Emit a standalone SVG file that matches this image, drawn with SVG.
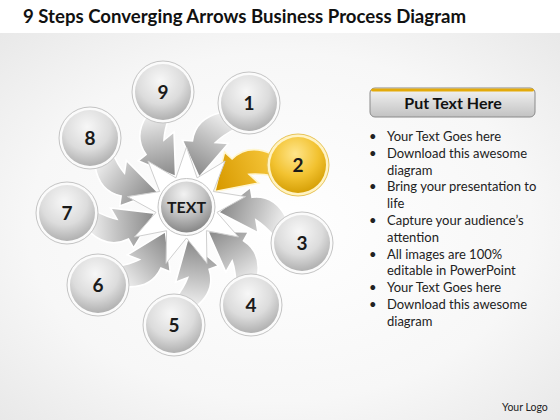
<svg xmlns="http://www.w3.org/2000/svg" xmlns:xlink="http://www.w3.org/1999/xlink" width="560" height="420" viewBox="0 0 560 420">
<style>
.num{font-family:Lato,"Open Sans","Liberation Sans",sans-serif;font-weight:bold;font-size:19px;fill:#1a1a1a;text-anchor:middle}
.ring{fill:#fbfbfb;stroke:#c4c4c4;stroke-width:1}
.ball{fill:url(#nodeGrad)}
.arrow{fill:url(#arrowGrad);stroke:#ffffff;stroke-width:1.6;stroke-linejoin:miter}
.bul{font-family:Lato,"Open Sans","Liberation Sans",sans-serif;font-size:13px;fill:#222}
</style>
<defs>
<radialGradient id="bgGrad" cx="50%" cy="50%" r="75%">
<stop offset="0" stop-color="#ffffff"/>
<stop offset="0.6" stop-color="#f7f7f7"/>
<stop offset="1" stop-color="#e6e6e6"/>
</radialGradient>
<radialGradient id="nodeGrad" cx="45%" cy="30%" r="75%">
<stop offset="0" stop-color="#f7f7f7"/>
<stop offset="0.55" stop-color="#dcdcdc"/>
<stop offset="1" stop-color="#a9a9a9"/>
</radialGradient>
<radialGradient id="goldGrad" cx="45%" cy="30%" r="75%">
<stop offset="0" stop-color="#ffe58a"/>
<stop offset="0.55" stop-color="#f2c230"/>
<stop offset="1" stop-color="#d19a00"/>
</radialGradient>
<radialGradient id="centerGrad" cx="45%" cy="25%" r="80%">
<stop offset="0" stop-color="#f2f2f2"/>
<stop offset="0.5" stop-color="#c4c4c4"/>
<stop offset="1" stop-color="#7e7e7e"/>
</radialGradient>
<linearGradient id="arrowGrad" gradientUnits="userSpaceOnUse" x1="98" y1="-10" x2="36" y2="-10">
<stop offset="0" stop-color="#efefef"/>
<stop offset="0.45" stop-color="#c2c2c2"/>
<stop offset="1" stop-color="#8e8e8e"/>
</linearGradient>
<linearGradient id="goldArrowGrad" gradientUnits="userSpaceOnUse" x1="98" y1="-10" x2="36" y2="-10">
<stop offset="0" stop-color="#f6c63a"/>
<stop offset="1" stop-color="#d89a00"/>
</linearGradient>
<linearGradient id="headGrad" x1="0" y1="0" x2="0" y2="1">
<stop offset="0" stop-color="#f4f4f4"/>
<stop offset="1" stop-color="#c2c2c2"/>
</linearGradient>
<path id="arrowShape" d="M32,-4.5 L55,-38 L59.6,-29 Q80,-38 98,-20 L93,2 Q80,-6 70.1,-8.5 L76,3 Z"/>
</defs>
<rect x="0" y="0" width="560" height="420" fill="#ffffff"/>
<rect x="0" y="33" width="560" height="387" fill="url(#bgGrad)"/>
<text x="23" y="23" font-family="Lato,'Open Sans','Liberation Sans',sans-serif" font-weight="bold" font-size="18" fill="#111" textLength="443" lengthAdjust="spacingAndGlyphs">9 Steps Converging Arrows Business Process Diagram</text>

<g id="connectors">
<use xlink:href="#arrowShape" class="arrow" transform="translate(186.5,207) rotate(-58.9)"/>
<use xlink:href="#arrowShape" class="arrow" transform="translate(186.5,207) rotate(17.5)"/>
<use xlink:href="#arrowShape" class="arrow" transform="translate(186.5,207) rotate(56.6)"/>
<use xlink:href="#arrowShape" class="arrow" transform="translate(186.5,207) rotate(96)"/>
<use xlink:href="#arrowShape" class="arrow" transform="translate(186.5,207) rotate(138.7)"/>
<use xlink:href="#arrowShape" class="arrow" transform="translate(186.5,207) rotate(177)"/>
<use xlink:href="#arrowShape" class="arrow" transform="translate(186.5,207) rotate(215.5)"/>
<use xlink:href="#arrowShape" class="arrow" transform="translate(186.5,207) rotate(258.3)"/>
<use xlink:href="#arrowShape" transform="translate(186.5,207) rotate(-20.6)" fill="url(#goldArrowGrad)" stroke="#fff6d0" stroke-width="1.6"/>
</g>

<g id="center">
<polygon transform="translate(186.5,207)" points="0,-60 10.6,-29.1 38.6,-46 26.8,-15.5 59.1,-10.4 30.5,5.4 52,30 19.9,23.7 20.5,56.4 0,31 -20.5,56.4 -19.9,23.7 -52,30 -30.5,5.4 -59.1,-10.4 -26.8,-15.5 -38.6,-46 -10.6,-29.1" fill="#ffffff" stroke="#cfcfcf" stroke-width="1" stroke-linejoin="miter"/>
<circle cx="186.5" cy="207" r="28.5" class="ring"/>
<circle cx="186.5" cy="207" r="25.5" fill="url(#centerGrad)"/>
<text x="186.5" y="213" font-family="Lato,'Open Sans','Liberation Sans',sans-serif" font-weight="bold" font-size="16" fill="#1a1a1a" text-anchor="middle">TEXT</text>
</g>

<g id="node1"><circle cx="249" cy="103" r="31" class="ring"/><circle cx="249" cy="103" r="28" class="ball"/><text x="249" y="110" class="num">1</text></g>
<g id="node2"><circle cx="298" cy="165" r="31" fill="#fff3c4" stroke="#e8c458" stroke-width="1"/><circle cx="298" cy="165" r="28" fill="url(#goldGrad)"/><text x="298" y="172" class="num">2</text></g>
<g id="node3"><circle cx="302" cy="243" r="31" class="ring"/><circle cx="302" cy="243" r="28" class="ball"/><text x="302" y="250" class="num">3</text></g>
<g id="node4"><circle cx="251" cy="305" r="31" class="ring"/><circle cx="251" cy="305" r="28" class="ball"/><text x="251" y="312" class="num">4</text></g>
<g id="node5"><circle cx="174" cy="325" r="31" class="ring"/><circle cx="174" cy="325" r="28" class="ball"/><text x="174" y="332" class="num">5</text></g>
<g id="node6"><circle cx="98" cy="285" r="31" class="ring"/><circle cx="98" cy="285" r="28" class="ball"/><text x="98" y="292" class="num">6</text></g>
<g id="node7"><circle cx="67" cy="213" r="31" class="ring"/><circle cx="67" cy="213" r="28" class="ball"/><text x="67" y="220" class="num">7</text></g>
<g id="node8"><circle cx="90" cy="138" r="31" class="ring"/><circle cx="90" cy="138" r="28" class="ball"/><text x="90" y="145" class="num">8</text></g>
<g id="node9"><circle cx="163" cy="92" r="31" class="ring"/><circle cx="163" cy="92" r="28" class="ball"/><text x="163" y="99" class="num">9</text></g>

<g id="panel">
<rect x="370" y="88" width="165" height="29" rx="5" fill="url(#headGrad)" stroke="#8a8a8a" stroke-width="1"/>
<rect x="371" y="88.5" width="163" height="3" rx="2" fill="#e3aa0a"/>
<text x="453" y="109" font-family="Lato,'Open Sans','Liberation Sans',sans-serif" font-weight="bold" font-size="16" fill="#111" text-anchor="middle">Put Text Here</text>
<g class="bul">
<text x="369" y="141">•</text><text x="387" y="141">Your Text Goes here</text>
<text x="369" y="158">•</text><text x="387" y="158">Download this awesome</text>
<text x="387" y="175">diagram</text>
<text x="369" y="191">•</text><text x="387" y="191">Bring your presentation to</text>
<text x="387" y="208">life</text>
<text x="369" y="225">•</text><text x="387" y="225">Capture your audience’s</text>
<text x="387" y="242">attention</text>
<text x="369" y="259">•</text><text x="387" y="259">All images are 100%</text>
<text x="387" y="275">editable in PowerPoint</text>
<text x="369" y="292">•</text><text x="387" y="292">Your Text Goes here</text>
<text x="369" y="309">•</text><text x="387" y="309">Download this awesome</text>
<text x="387" y="326">diagram</text>
</g>
</g>
<text x="502" y="411" font-family="Lato,'Open Sans','Liberation Sans',sans-serif" font-size="10.5" fill="#222">Your Logo</text>
</svg>
